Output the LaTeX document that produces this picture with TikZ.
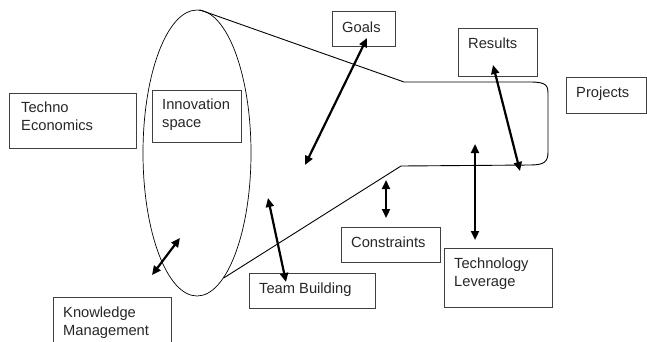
\documentclass[tikz,border=0pt]{standalone}
\usepackage{fontspec}
\setmainfont{Liberation Sans}
\usetikzlibrary{arrows.meta,shapes.geometric,calc}
\begin{document}
\begin{tikzpicture}[x=1pt,y=-1pt,
  box/.style={draw=black!75,line width=1.1pt,anchor=north west,inner sep=0pt},
  label/.style={anchor=north west,inner sep=0pt,align=left,
    font=\fontsize{14.7}{18}\selectfont,text=black!85},
  link/.style={line width=2.2pt,{Triangle[length=9pt,width=8pt]}-{Triangle[length=9pt,width=8pt]}},
  funnel/.style={line width=0.9pt,line join=round}]
\useasboundingbox (0,0) rectangle (647,341);
\clip (0,0) rectangle (647,341);

% funnel mouth and body
\node[draw,ellipse,line width=0.7pt,minimum width=108pt,minimum height=286pt,inner sep=0pt]
  (mouth) at (197,153) {};
\coordinate (topbend) at (404,82);
\coordinate (botbend) at (401,166);
\coordinate (tipT) at (530,82);
\coordinate (tipB) at (530,165);
\draw[funnel] (mouth.89) -- (topbend) -- (tipT)
  .. controls (548,82) and (548,86) .. (548,96) -- (548,152)
  .. controls (548,162) and (544,165) .. (tipB) -- (botbend) -- (mouth.-78);

% boxes
\node[box,minimum width=127pt,minimum height=55pt] (techno) at (9,93) {};
\node[box,minimum width=89pt,minimum height=52pt] (innov) at (152,90) {};
\node[box,minimum width=63pt,minimum height=35pt] (goals) at (332,11) {};
\node[box,minimum width=79pt,minimum height=48pt] (results) at (458,28) {};
\node[box,minimum width=80pt,minimum height=36pt] (projects) at (566,77) {};
\node[box,minimum width=126pt,minimum height=35pt] (team) at (249,273) {};
\node[box,minimum width=118pt,minimum height=60pt] (know) at (53,297) {};
\node[box,minimum width=99pt,minimum height=35pt] (constr) at (341,227) {};
\node[box,minimum width=108pt,minimum height=59pt] (tech) at (444,248) {};

% box texts
\node[label] at ($(techno.north west)+(12,9)$) {Techno\\Economics};
\node[label] at ($(innov.north west)+(10,9)$) {Innovation\\space};
\node[label] at ($(goals.north west)+(10,11)$) {Goals};
\node[label] at ($(results.north west)+(10,10)$) {Results};
\node[label] at ($(projects.north west)+(10,10)$) {Projects};
\node[label] at ($(team.north west)+(10,10)$) {Team Building};
\node[label] at ($(know.north west)+(10,10)$) {Knowledge\\Management};
\node[label] at ($(constr.north west)+(10,10)$) {Constraints};
\node[label] at ($(tech.north west)+(10,10)$) {Technology\\Leverage};

% double-headed links
\coordinate (gA) at (305,165);
\coordinate (gB) at (367,38);
\draw[link] (gA) -- (gB);
\coordinate (rA) at (493,65);
\coordinate (rB) at (520,171);
\draw[link] (rA) -- (rB);
\coordinate (tA) at (475,144);
\coordinate (tB) at (475,240);
\draw[link] (tA) -- (tB);
\coordinate (cA) at (386,180);
\coordinate (cB) at (386,218);
\draw[link] (cA) -- (cB);
\coordinate (bA) at (268,198);
\coordinate (bB) at (286,282);
\draw[link] (bA) -- (bB);
\coordinate (kA) at (152,275);
\coordinate (kB) at (180,238);
\draw[link] (kA) -- (kB);
\end{tikzpicture}
\end{document}
